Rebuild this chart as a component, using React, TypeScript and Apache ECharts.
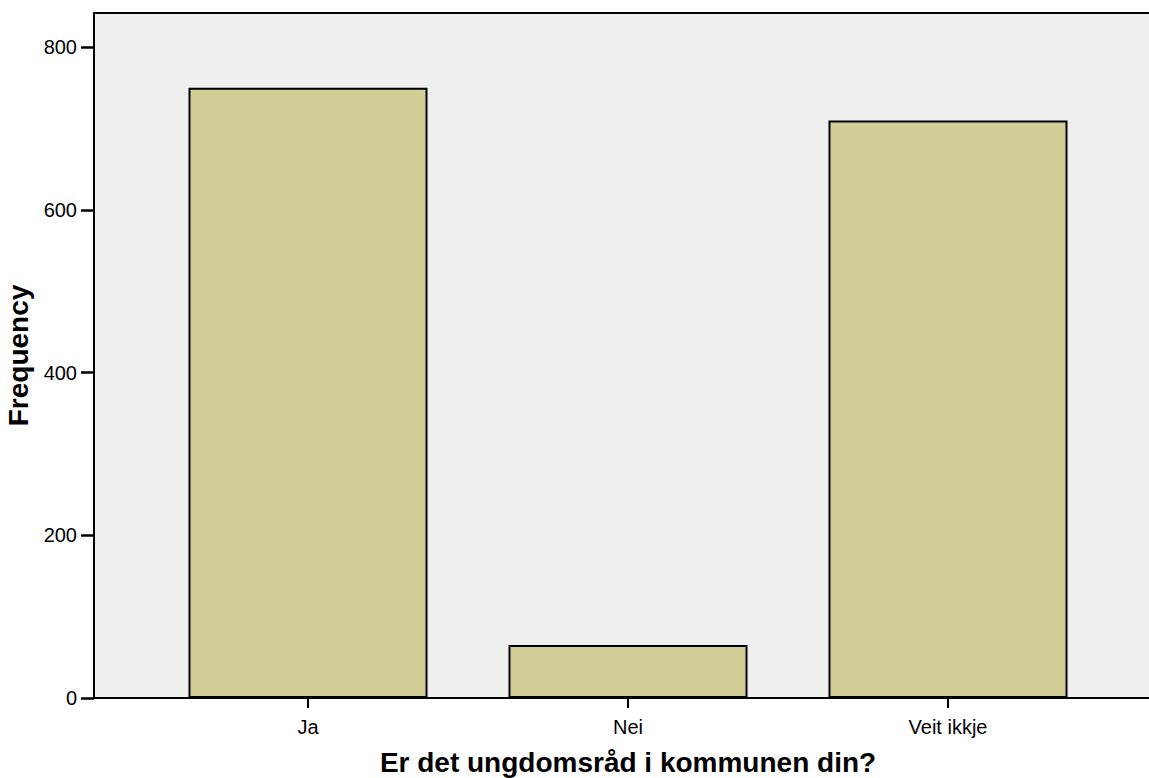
import React, { useEffect, useRef } from "react";
import * as echarts from "echarts";

const categories = ["Ja", "Nei", "Veit ikkje"];
const frequencies = [750, 65, 710];
const yTicks = [0, 200, 400, 600, 800];
const xTitle = "Er det ungdomsråd i kommunen din?";
const yTitle = "Frequency";

export default function App() {
  const ref = useRef<HTMLDivElement>(null);
  useEffect(() => {
    if (!ref.current) return;
    const chart = echarts.init(ref.current, null, { renderer: "svg" });
    const positions = categories.map((_, i) => i + 1);
    const font = "'Liberation Sans', Arial, sans-serif";
    const xMin = 1 - 214 / 320;
    const xMax = 3 + 214 / 320;
    chart.setOption({
      animation: false,
      backgroundColor: "#ffffff",
      grid: {
        left: 94,
        top: 13,
        width: 1068,
        height: 685,
        containLabel: false,
        outerBoundsMode: "none",
        show: true,
        backgroundColor: "#efefef",
        borderWidth: 0,
        borderColor: "transparent",
      },
      xAxis: [
        {
          type: "value",
          min: xMin,
          max: xMax,
          name: xTitle,
          nameLocation: "middle",
          nameGap: 50,
          nameTextStyle: { fontFamily: font, fontSize: 28, fontWeight: "bold", color: "#000" },
          splitLine: { show: false },
          axisLine: { show: true, onZero: false, lineStyle: { color: "#000", width: 2 } },
          axisTick: { show: true, customValues: positions, length: 10, lineStyle: { color: "#000", width: 2 } },
          axisLabel: {
            customValues: positions,
            formatter: (v: number) => categories[Math.round(v) - 1] ?? "",
            color: "#000",
            fontFamily: font,
            fontSize: 20,
            margin: 19,
          },
        },
        {
          type: "value",
          position: "top",
          min: xMin,
          max: xMax,
          splitLine: { show: false },
          axisLine: { show: true, onZero: false, lineStyle: { color: "#000", width: 2 } },
          axisTick: { show: false },
          axisLabel: { show: false },
        },
      ],
      yAxis: {
        type: "value",
        min: 0,
        max: 842,
        name: yTitle,
        nameLocation: "middle",
        nameGap: 57,
        nameTextStyle: { fontFamily: font, fontSize: 28, fontWeight: "bold", color: "#000" },
        splitLine: { show: false },
        axisLine: { show: true, lineStyle: { color: "#000", width: 2 } },
        axisTick: { show: true, customValues: yTicks, length: 13, lineStyle: { color: "#000", width: 2.5 } },
        axisLabel: {
          customValues: yTicks,
          color: "#000",
          fontFamily: font,
          fontSize: 20,
          margin: 17,
        },
      },
      series: [
        {
          type: "bar",
          xAxisIndex: 0,
          data: categories.map((_, i) => [positions[i], frequencies[i]]),
          barWidth: 239,
          itemStyle: { color: "#d3ce98", borderColor: "#000", borderWidth: 2 },
        },
      ],
    });
    return () => chart.dispose();
  }, []);
  return (
    <div
      ref={ref}
      style={{ position: "absolute", left: 0, top: 0, width: 1149, height: 778, overflow: "hidden" }}
    />
  );
}
